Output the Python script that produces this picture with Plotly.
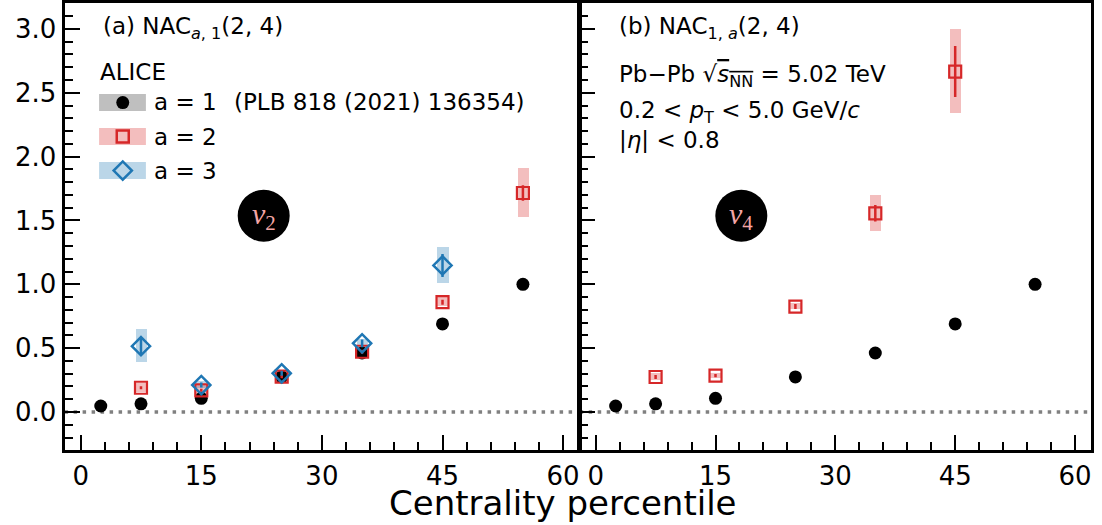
import plotly.graph_objects as go

# ---------------- data ----------------
cent_a1 = [2.5, 7.5, 15, 25, 35, 45, 55]
nac_a1 = [0.047, 0.064, 0.107, 0.275, 0.462, 0.69, 1.0]
stat_a1 = [0.004, 0.004, 0.005, 0.006, 0.008, 0.01, 0.015]
sys_a1 = [0.004, 0.004, 0.005, 0.006, 0.008, 0.01, 0.015]

# panel (a): NAC_{a,1}(2,4)
cent_a2 = [7.5, 15, 25, 35, 45, 55]
nac_a2 = [0.19, 0.17, 0.277, 0.472, 0.86, 1.715]
stat_a2 = [0.012, 0.012, 0.012, 0.015, 0.02, 0.06]
sys_a2 = [0.035, 0.03, 0.02, 0.03, 0.035, 0.19]

cent_a3 = [7.5, 15, 25, 35, 45]
nac_a3 = [0.515, 0.211, 0.303, 0.538, 1.148]
stat_a3 = [0.06, 0.02, 0.02, 0.03, 0.09]
sys_a3 = [0.13, 0.025, 0.02, 0.03, 0.14]

# panel (b): NAC_{1,a}(2,4)
cent_b2 = [7.5, 15, 25, 35, 45]
nac_b2 = [0.274, 0.285, 0.826, 1.556, 2.666]
stat_b2 = [0.015, 0.012, 0.02, 0.065, 0.2]
sys_b2 = [0.025, 0.02, 0.025, 0.14, 0.33]

xticks = [0, 15, 30, 45, 60]
yticks = [0.0, 0.5, 1.0, 1.5, 2.0, 2.5, 3.0]

# ---------------- styles ----------------
BLACK = "black"
RED = "#d62728"
BLUE = "#1f77b4"
RED_BOX = "rgba(214,39,40,0.3)"
BLUE_BOX = "rgba(31,119,180,0.3)"
GRAY_BOX = "rgba(0,0,0,0.25)"
FONT = "DejaVu Sans"
BOX_W = 1.4

fig = go.Figure()


def sys_boxes(x, y, s, color, xa, ya):
    fig.add_trace(go.Bar(
        x=x, y=[2 * v for v in s], base=[a - b for a, b in zip(y, s)],
        width=BOX_W, marker=dict(color=color, line=dict(width=0)),
        xaxis=xa, yaxis=ya, showlegend=False, hoverinfo="skip"))


def points(x, y, e, color, symbol, size, lw, xa, ya):
    fig.add_trace(go.Scatter(
        x=x, y=y, mode="markers",
        marker=dict(symbol=symbol, size=size, color=color,
                    line=dict(color=color, width=lw)),
        error_y=dict(type="data", array=e, color=color, thickness=2.5, width=0),
        xaxis=xa, yaxis=ya, showlegend=False))


# systematic boxes
sys_boxes(cent_a2, nac_a2, sys_a2, RED_BOX, "x", "y")
sys_boxes(cent_a3, nac_a3, sys_a3, BLUE_BOX, "x", "y")
sys_boxes(cent_b2, nac_b2, sys_b2, RED_BOX, "x2", "y2")

# points with statistical errors
points(cent_a1, nac_a1, stat_a1, BLACK, "circle", 13, 0, "x", "y")
points(cent_a2, nac_a2, stat_a2, RED, "square-open", 12, 2.2, "x", "y")
points(cent_a3, nac_a3, stat_a3, BLUE, "diamond-open", 14, 2.5, "x", "y")
points(cent_a1, nac_a1, stat_a1, BLACK, "circle", 13, 0, "x2", "y2")
points(cent_b2, nac_b2, stat_b2, RED, "square-open", 12, 2.2, "x2", "y2")

# legend symbols on a unit overlay axis
leg_x = [0.113, 0.113, 0.113]
leg_y = [0.778, 0.702, 0.626]
leg_sym = ["circle", "square-open", "diamond-open"]
leg_col = [BLACK, RED, BLUE]
leg_size = [13, 12, 14]
leg_box = [GRAY_BOX, RED_BOX, BLUE_BOX]
leg_text = ["a = 1", "a = 2", "a = 3"]
for i in range(3):
    fig.add_trace(go.Scatter(
        x=[leg_x[i]], y=[leg_y[i]], mode="markers",
        marker=dict(symbol=leg_sym[i], size=leg_size[i], color=leg_col[i],
                    line=dict(color=leg_col[i], width=0 if i == 0 else 2.5)),
        xaxis="x3", yaxis="y3", showlegend=False, hoverinfo="skip"))

shapes = []
for i in range(3):
    shapes.append(dict(type="rect", xref="x3", yref="y3",
                       x0=0.067, x1=0.158, y0=leg_y[i] - 0.019, y1=leg_y[i] + 0.019,
                       fillcolor=leg_box[i], line=dict(width=0), layer="below"))

# zero reference lines
for xr, yr in [("x domain", "y"), ("x2 domain", "y2")]:
    shapes.append(dict(type="line", xref=xr, yref=yr, x0=0, x1=1, y0=0, y1=0,
                       line=dict(color="#808080", width=3.5, dash="3.5px,5.5px"),
                       layer="below"))

# harmonic badges
badges = [("x", "y", 22.76, 1.537, "<i>v</i><sub>2</sub>"),
          ("x2", "y2", 18.23, 1.537, "<i>v</i><sub>4</sub>")]
annotations = []
for xr, yr, bx, by, label in badges:
    shapes.append(dict(type="circle", xref=xr, yref=yr, xsizemode="pixel",
                       ysizemode="pixel", xanchor=bx, yanchor=by,
                       x0=-26, x1=26, y0=-26, y1=26,
                       fillcolor="black", line=dict(width=0)))
    annotations.append(dict(x=bx, y=by, xref=xr, yref=yr, text=label,
                            showarrow=False, xanchor="center", yanchor="middle",
                            font=dict(family="Liberation Serif", size=30, color="#f4a6a6")))


def note(x, y, text, size=23):
    annotations.append(dict(x=x, y=y, xref="paper", yref="paper", text=text,
                            showarrow=False, xanchor="left", yanchor="middle",
                            font=dict(family=FONT, size=size, color="black")))


note(0.0914, 0.9467, "(a) NAC<sub><i>a</i>, 1</sub>(2, 4)")
note(0.0889, 0.8634, "ALICE")
for i in range(3):
    note(0.1382, 0.8048 - i * 0.0648, leg_text[i])
note(0.2103, 0.8057, "(PLB 818 (2021) 136354)")
note(0.5596, 0.9467, "(b) NAC<sub>1, <i>a</i></sub>(2, 4)")
note(0.5596, 0.8552,
     "Pb\u2212Pb \u221a<span style='text-decoration:overline'><i>s</i><sub>NN</sub></span> = 5.02 TeV")
note(0.5596, 0.7872, "0.2 &lt; <i>p</i><sub>T</sub> &lt; 5.0 GeV/<i>c</i>")
note(0.5596, 0.7333, "|<i>\u03b7</i>| &lt; 0.8")

annotations.append(dict(x=0.511, y=0.042, xref="paper", yref="paper",
                        text="Centrality percentile", showarrow=False,
                        xanchor="center", yanchor="middle",
                        font=dict(family=FONT, size=34, color="black")))

xaxis_common = dict(range=[-2, 62], tickvals=xticks, ticks="inside", ticklen=15,
                    tickwidth=2, tickcolor="black", showline=True, linewidth=3,
                    linecolor="black", mirror=True, showgrid=False, zeroline=False,
                    tickfont=dict(family=FONT, size=26, color="black"),
                    minor=dict(dtick=3, tick0=0, ticks="inside", ticklen=8,
                               tickwidth=1.5, tickcolor="black", showgrid=False))
yaxis_common = dict(range=[-0.3, 3.2], tickvals=yticks, ticktext=[f"{v:.1f}" for v in yticks],
                    ticks="inside", ticklen=15, tickwidth=2, tickcolor="black",
                    showline=True, linewidth=3, linecolor="black", mirror=True,
                    showgrid=False, zeroline=False,
                    tickfont=dict(family=FONT, size=26, color="black"),
                    minor=dict(dtick=0.1, tick0=0, ticks="inside", ticklen=8,
                               tickwidth=1.5, tickcolor="black", showgrid=False))

W, H = 1102, 525
ydom = [1 - 450.3 / H, 1 - 3.4 / H]
fig.update_layout(
    width=W, height=H, margin=dict(l=0, r=0, t=0, b=0),
    paper_bgcolor="white", plot_bgcolor="white",
    barmode="overlay", bargap=0,
    xaxis=dict(domain=[64.6 / W, 579.2 / W], anchor="y", **xaxis_common),
    yaxis=dict(domain=ydom, anchor="x", **yaxis_common),
    xaxis2=dict(domain=[579.7 / W, 1091 / W], anchor="y2", **xaxis_common),
    yaxis2=dict(domain=ydom, anchor="x2", showticklabels=False,
                **{k: v for k, v in yaxis_common.items() if k != "tickfont"}),
    xaxis3=dict(overlaying="x", range=[0, 1], visible=False, anchor="y3"),
    yaxis3=dict(overlaying="y", range=[0, 1], visible=False, anchor="x3"),
    shapes=shapes, annotations=annotations,
    font=dict(family=FONT),
)

fig.write_html("out.html")
